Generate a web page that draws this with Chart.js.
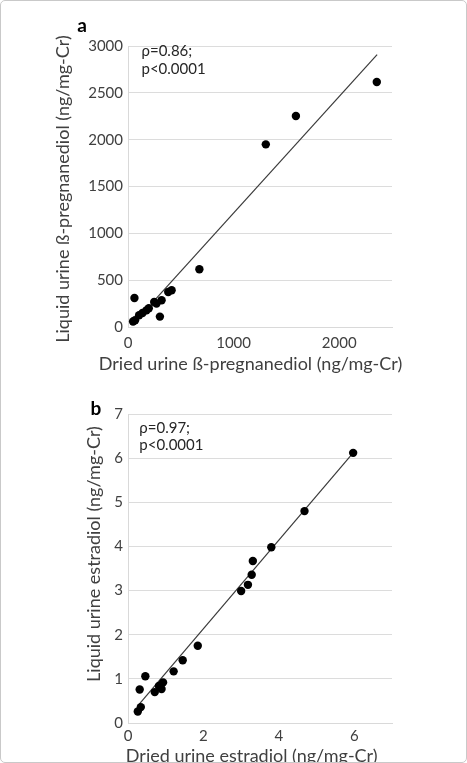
<!DOCTYPE html>
<html><head><meta charset="utf-8">
<script src="https://cdn.jsdelivr.net/npm/chart.js@4/dist/chart.umd.min.js"></script>
<style>
html,body{margin:0;padding:0;background:#fff;overflow:hidden;width:467px;height:763px;}
#frame{position:absolute;left:0;top:0;width:465px;height:761px;border:1px solid #c9c9c9;border-radius:5px;pointer-events:none;}
canvas{position:absolute;left:0;}
#ca{top:0;} #cb{top:380px;}
</style></head><body>
<canvas id="ca" width="467" height="380"></canvas>
<canvas id="cb" width="467" height="400"></canvas>
<div id="frame"></div>
<script>
// Panel a: β-pregnanediol (ng/mg-Cr)
const driedPreg  = [48, 67, 61, 105, 137, 175, 197, 248, 270, 318, 302, 381, 413, 676, 1305, 1590, 2356];
const liquidPreg = [58, 72, 310, 125, 150, 178, 200, 267, 250, 285, 111, 374, 392, 616, 1950, 2253, 2616];
const trendPregX = [255, 2359];
const trendPregY = [290, 2907];
const xTicksPreg = [0, 1000, 2000];
const yTicksPreg = [0, 500, 1000, 1500, 2000, 2500, 3000];
const statsPreg  = ['ρ=0.86;', 'p<0.0001'];
const xTitlePreg = 'Dried urine ß-pregnanediol (ng/mg-Cr)';
const yTitlePreg = 'Liquid urine ß-pregnanediol (ng/mg-Cr)';

// Panel b: estradiol (ng/mg-Cr)
const driedE2  = [5.97, 4.68, 3.80, 3.31, 3.28, 3.18, 3.00, 1.85, 1.45, 1.21, 0.93, 0.89, 0.82, 0.71, 0.46, 0.31, 0.34, 0.26];
const liquidE2 = [6.12, 4.80, 3.98, 3.67, 3.36, 3.13, 2.99, 1.75, 1.42, 1.17, 0.92, 0.77, 0.84, 0.70, 1.06, 0.76, 0.36, 0.26];
const trendE2X = [0.27, 5.98];
const trendE2Y = [0.40, 6.13];
const xTicksE2 = [0, 2, 4, 6];
const yTicksE2 = [0, 1, 2, 3, 4, 5, 6, 7];
const statsE2  = ['ρ=0.97;', 'p<0.0001'];
const xTitleE2 = 'Dried urine estradiol (ng/mg-Cr)';
const yTitleE2 = 'Liquid urine estradiol (ng/mg-Cr)';

const FONT = 'Lato, "Noto Sans", "DejaVu Sans", sans-serif';
Chart.defaults.font.family = FONT;

const panelText = {
  id: 'panelText',
  afterDraw(chart, args, o) {
    const ctx = chart.ctx;
    ctx.save();
    ctx.textBaseline = 'alphabetic';
    // panel letter
    ctx.fillStyle = '#000';
    ctx.font = 'bold 19px ' + FONT;
    ctx.textAlign = 'center';
    ctx.fillText(o.letter, o.letterX, o.letterY);
    // axis titles
    ctx.fillStyle = '#404040';
    ctx.font = o.titleSize + 'px ' + FONT;
    ctx.fillText(o.xtitle, o.xtX, o.xtY);
    ctx.save();
    ctx.translate(o.ytX, o.ytY);
    ctx.rotate(-Math.PI / 2);
    ctx.fillText(o.ytitle, 0, 0);
    ctx.restore();
    // statistics
    ctx.font = '15px ' + FONT;
    ctx.fillStyle = '#262626';
    ctx.textAlign = 'left';
    o.lines.forEach((t, i) => ctx.fillText(t, o.textX, o.textY + i * o.lh));
    ctx.restore();
  }
};

function makeChart(id, xs, ys, tx, ty, xt, yt, cfg) {
  return new Chart(document.getElementById(id), {
    type: 'scatter',
    data: { datasets: [
      { type: 'scatter', data: xs.map((x, i) => ({x, y: ys[i]})), backgroundColor: '#000', borderWidth: 0, pointRadius: 4.2, pointHoverRadius: 4.2, order: 1 },
      { type: 'line', data: tx.map((x, i) => ({x, y: ty[i]})), borderColor: '#3a3a3a', borderWidth: 1.2, pointRadius: 0, fill: false, order: 2 }
    ]},
    options: {
      responsive: false, animation: false, devicePixelRatio: 1,
      layout: { padding: { left: 0, top: cfg.top, right: 75, bottom: 0 } },
      plugins: { legend: { display: false }, tooltip: { enabled: false }, panelText: cfg.text },
      scales: {
        x: {
          type: 'linear', min: 0, max: cfg.xmax, bounds: 'data',
          grid: { display: false, drawTicks: false },
          border: { display: true, color: '#d9d9d9', width: 1 },
          ticks: { padding: cfg.xpad, color: '#404040', font: { size: 15 }, maxRotation: 0, autoSkip: false, callback: v => String(v) },
          afterBuildTicks(s) { s.ticks = xt.map(v => ({value: v})); },
          afterFit(s) { s.height = cfg.xh; }
        },
        y: {
          type: 'linear', min: 0, max: cfg.ymax, bounds: 'data',
          grid: { color: '#dcdcdc', drawTicks: false, lineWidth: 1 },
          border: { display: true, color: '#d9d9d9', width: 1 },
          ticks: { padding: 5, color: '#404040', font: { size: 15 }, autoSkip: false, callback: v => String(v) },
          afterBuildTicks(s) { s.ticks = yt.map(v => ({value: v})); },
          afterFit(s) { s.width = 128; }
        }
      }
    },
    plugins: [panelText]
  });
}

makeChart('ca', driedPreg, liquidPreg, trendPregX, trendPregY, xTicksPreg, yTicksPreg, {
  top: 46, xmax: 2500, ymax: 3000, xpad: 7, xh: 53,
  text: { letter: 'a', letterX: 82, letterY: 32, lines: statsPreg, textX: 141.5, textY: 56, lh: 17.5,
          titleSize: 18, xtitle: xTitlePreg, xtX: 250.5, xtY: 370, ytitle: yTitlePreg, ytX: 68.5, ytY: 189 }
});

makeChart('cb', driedE2, liquidE2, trendE2X, trendE2Y, xTicksE2, yTicksE2, {
  top: 34, xmax: 7, ymax: 7, xpad: 4, xh: 57,
  text: { letter: 'b', letterX: 96, letterY: 35, lines: statsE2, textX: 139.3, textY: 53, lh: 17,
          titleSize: 18, xtitle: xTitleE2, xtX: 251.7, xtY: 382.3, ytitle: yTitleE2, ytX: 100, ytY: 174 }
});
</script></body></html>
